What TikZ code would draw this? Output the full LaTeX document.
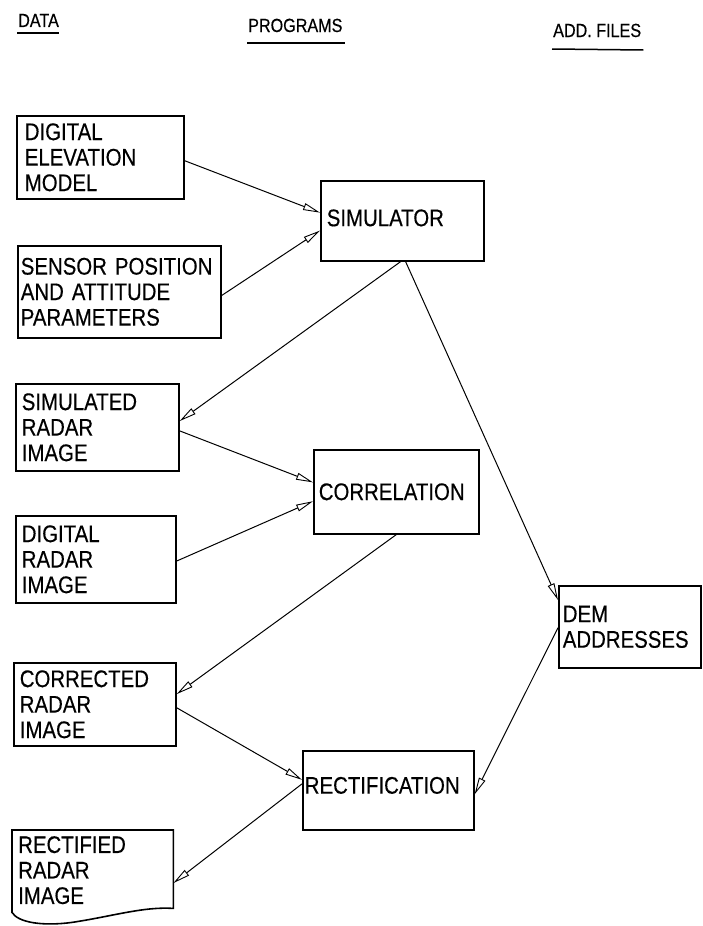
\documentclass[tikz,border=0pt]{standalone}
\usepackage{fontspec}
\setmainfont{Liberation Sans}[FakeStretch=0.85,FakeBold=0.4]
\usetikzlibrary{arrows.meta,calc}
\begin{document}
\begin{tikzpicture}[x=1pt,y=-1pt,
  box/.style={draw, line width=1.6pt, anchor=north west, align=left,
    inner xsep=8pt, inner ysep=2pt,
    font=\fontsize{24}{25.5}\selectfont},
  head/.style={anchor=base west, inner sep=0pt, font=\fontsize{19}{20}\selectfont},
  uline/.style={line width=1.5pt},
  conn/.style={line width=1pt, -{Triangle[open,length=17pt,width=7pt,line width=0.9pt]}}
]
\useasboundingbox (0,0) rectangle (703,926);

% headers
\node[head] (hdata) at (18,27) {DATA};
\node[head] (hprog) at (248,32) {PROGRAMS};
\node[head] (hadd) at (553,37) {ADD. FILES};
\draw[uline] ($(hdata.base west)+(-1,6)$) -- ($(hdata.base east)+(0,6)$);
\draw[uline] ($(hprog.base west)+(-1,11)$) -- ($(hprog.base east)+(2,11)$);
\draw[uline] ($(hadd.base west)+(-1,12)$) -- ($(hadd.base east)+(2,13)$);

% data boxes
\node[box, minimum width=167pt, minimum height=83pt, text width=151pt] (dem) at (16,115) {DIGITAL\\ELEVATION\\MODEL};
\node[box, minimum width=203pt, minimum height=92pt, text width=197pt, inner xsep=3pt] (sensor) at (17,245) {SENSOR POSITION\\AND ATTITUDE\\PARAMETERS};
\node[box, minimum width=163pt, minimum height=87pt, text width=151pt, inner xsep=6pt] (simrad) at (15,383) {SIMULATED\\RADAR\\IMAGE};
\node[box, minimum width=160pt, minimum height=87pt, text width=148pt, inner xsep=6pt] (digrad) at (15,515) {DIGITAL\\RADAR\\IMAGE};
\node[box, minimum width=162pt, minimum height=83pt, text width=150pt, inner xsep=6pt] (corrected) at (13,662) {CORRECTED\\RADAR\\IMAGE};

% rectified (document shape)
\node[anchor=north west, align=left, inner xsep=6pt, inner ysep=2pt,
  minimum width=161pt, minimum height=80pt, text width=149pt,
  font=\fontsize{24}{25.5}\selectfont] (rectified) at (12,830) {RECTIFIED\\RADAR\\IMAGE};
\draw[line width=1.6pt] (rectified.north west) -- ($(rectified.south west)+(0,2)$)
  .. controls ($(rectified.south west)+(6,12)$) and ($(rectified.south west)+(30,16)$) .. ($(rectified.south west)+(60,12)$)
  .. controls ($(rectified.south west)+(100,6)$) and ($(rectified.south east)+(-30,-4)$) .. ($(rectified.south east)+(0,-2)$)
  -- (rectified.north east) -- cycle;

% program boxes
\node[box, minimum width=163pt, minimum height=80pt, text width=151pt, inner xsep=4pt] (sim) at (320,180) {\raisebox{6pt}{SIMULATOR}};
\node[box, minimum width=165pt, minimum height=84pt, text width=155pt, inner xsep=4pt] (corr) at (313,449) {CORRELATION};
\node[box, minimum width=171pt, minimum height=79pt, text width=167pt, inner xsep=2pt] (rect) at (302,750) {\raisebox{10pt}{RECTIFICATION}};

% add. files
\node[box, minimum width=142pt, minimum height=82pt, text width=134pt, inner xsep=4pt] (demaddr) at (558,585) {DEM\\ADDRESSES};

% connectors
\draw[conn] ($(dem.north east)!0.54!(dem.south east)$) -- ($(sim.north west)!0.40!(sim.south west)$);
\draw[conn] ($(sensor.north east)!0.54!(sensor.south east)$) -- ($(sim.north west)!0.62!(sim.south west)$);
\draw[conn] ($(sim.south west)!0.49!(sim.south east)$) -- ($(simrad.north east)!0.43!(simrad.south east)$);
\draw[conn] ($(sim.south west)!0.52!(sim.south east)$) -- ($(demaddr.north west)!0.18!(demaddr.south west)$);
\draw[conn] ($(simrad.north east)!0.54!(simrad.south east)$) -- ($(corr.north west)!0.39!(corr.south west)$);
\draw[conn] ($(digrad.north east)!0.52!(digrad.south east)$) -- ($(corr.north west)!0.61!(corr.south west)$);
\draw[conn] ($(corr.south west)!0.50!(corr.south east)$) -- ($(corrected.north east)!0.38!(corrected.south east)$);
\draw[conn] ($(corrected.north east)!0.54!(corrected.south east)$) -- ($(rect.north west)!0.37!(rect.south west)$);
\draw[conn] ($(demaddr.north west)!0.51!(demaddr.south west)$) -- ($(rect.north east)!0.55!(rect.south east)$);
\draw[conn] ($(rect.north west)!0.42!(rect.south west)$) -- ($(rectified.north east)!0.66!(rectified.south east)$);
\end{tikzpicture}
\end{document}
